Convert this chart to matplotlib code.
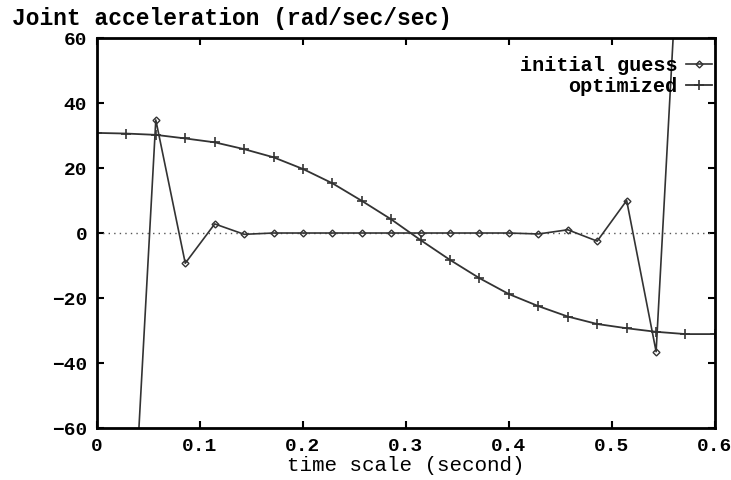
import matplotlib.pyplot as plt
import numpy as np

# sample times (22 points over 0..0.6 s)
t = [0.0, 0.0286, 0.0571, 0.0857, 0.1143, 0.1429, 0.1714, 0.2, 0.2286, 0.2571,
     0.2857, 0.3143, 0.3429, 0.3714, 0.4, 0.4286, 0.4571, 0.4857, 0.5143, 0.5429,
     0.5714, 0.6]

optimized = [30.8, 30.6, 30.2, 29.1, 27.9, 25.8, 23.3, 19.7, 15.3, 9.9,
             4.2, -2.2, -8.3, -13.9, -18.8, -22.5, -25.7, -28.0, -29.3, -30.4,
             -31.1, -31.1]

# initial guess starts at the 2nd sample, last value runs off the top
t_init = t[1:21]
initial = [-130, 34.8, -9.3, 2.8, -0.4, 0.0, 0.0, 0.0, 0.0, 0.0,
           0.0, 0.0, 0.0, 0.0, -0.3, 1.0, -2.5, 10.0, -36.5, 130]

xticks = [0, 0.1, 0.2, 0.3, 0.4, 0.5, 0.6]
xticklabels = ["0", "0.1", "0.2", "0.3", "0.4", "0.5", "0.6"]
yticks = [-60, -40, -20, 0, 20, 40, 60]

font = "Liberation Mono"
plt.rcParams['font.family'] = [font, 'DejaVu Sans']
plt.rcParams['font.weight'] = 'bold'

fig = plt.figure(figsize=(7.31, 4.8), dpi=100)
ax = fig.add_axes([0.1327, 0.1083, 0.978 - 0.1327, 0.9208 - 0.1083])

line_col = '#333333'
ax.axhline(0, color='#555555', lw=1.0, ls=(0, (1, 3)))

ax.plot(t_init, initial, color=line_col, lw=1.2, marker='D', ms=3.5,
        mfc='none', mec=line_col, mew=1.0, label='initial guess')
ax.plot(t, optimized, color=line_col, lw=1.3, marker='+', ms=7,
        mew=1.2, label='optimized')

ax.set_xlim(0, 0.6)
ax.set_ylim(-60, 60)
ax.set_xticks(xticks)
ax.set_xticklabels(xticklabels)
ax.set_yticks(yticks)
ax.tick_params(direction='in', length=5, width=1.5, top=True, right=True,
               labelsize=14, pad=7)
for s in ax.spines.values():
    s.set_linewidth(2)

ax.set_xlabel("time scale (second)", fontsize=15, labelpad=1)
fig.text(0.016, 0.962, "Joint acceleration (rad/sec/sec)", fontsize=16.5,
         fontweight='bold', va='center', ha='left')

ax.legend(loc='upper right', bbox_to_anchor=(0.995, 0.955), frameon=False,
          markerfirst=False, fontsize=14.5, handlelength=1.3,
          handletextpad=0.4, labelspacing=0.1, borderaxespad=0.0,
          borderpad=0.0)

fig.savefig("out.png", dpi=100)
